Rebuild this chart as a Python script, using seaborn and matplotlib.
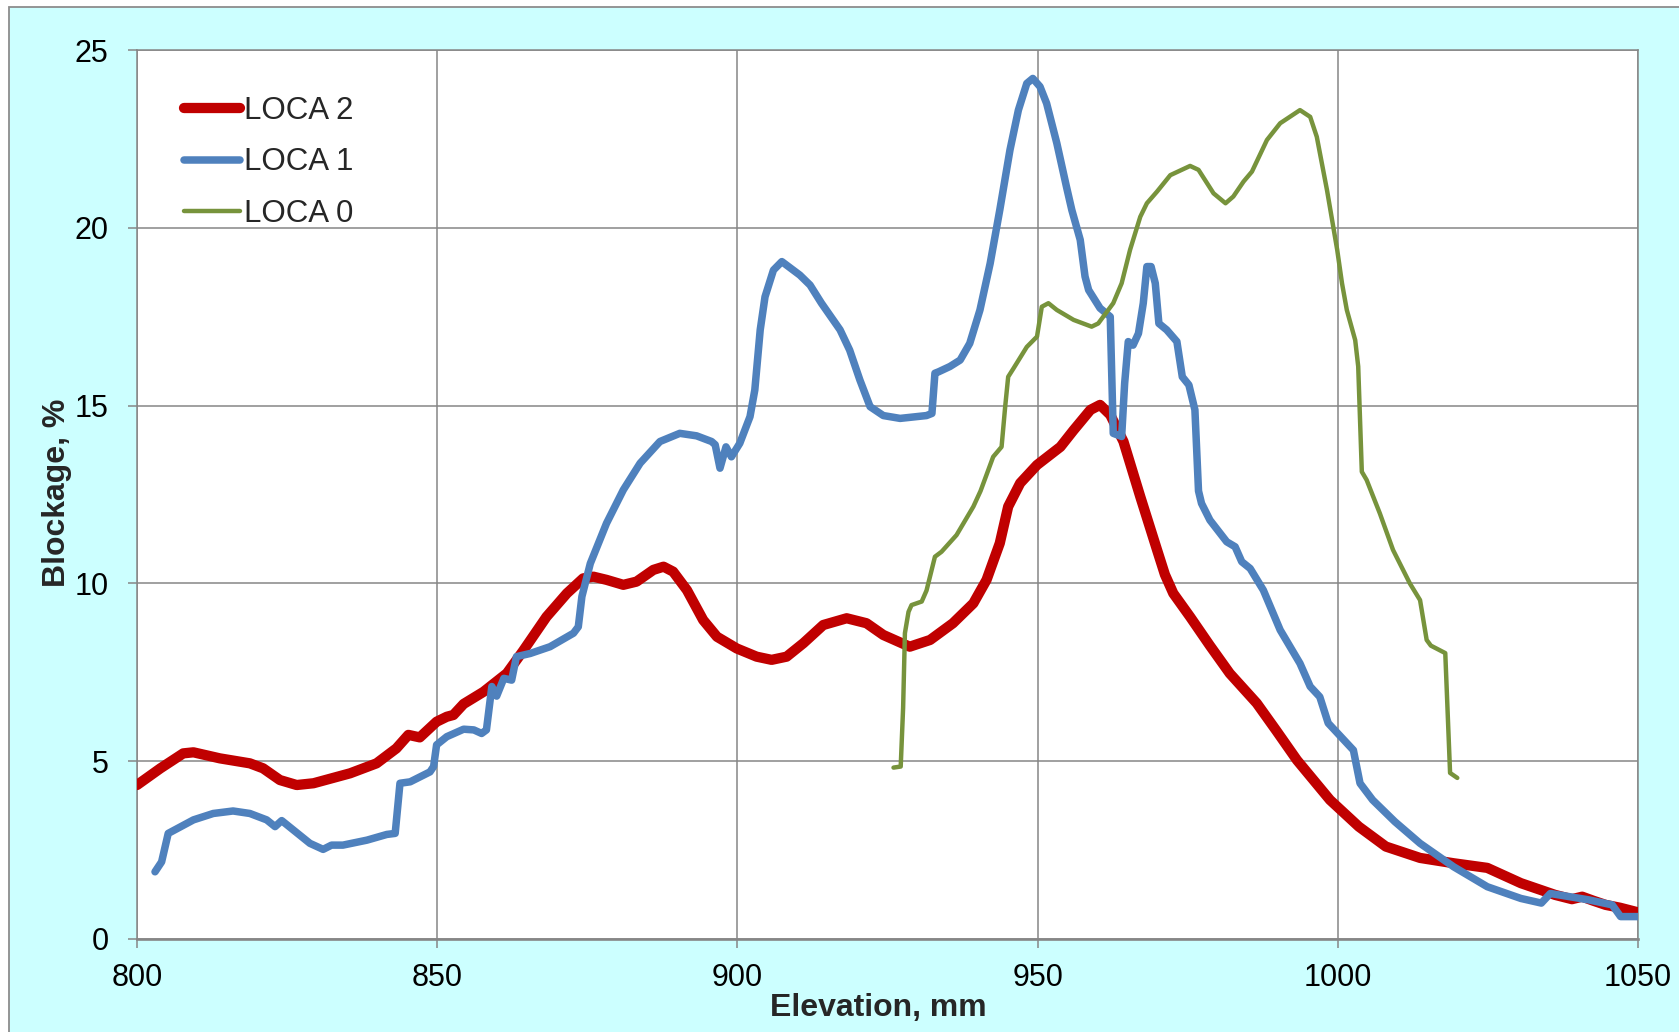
import matplotlib
matplotlib.use("Agg")
import matplotlib.pyplot as plt
from matplotlib.patches import Rectangle
import seaborn as sns
import pandas as pd

# ---- data: blockage (%) versus elevation (mm) for three LOCA cases ----
loca2_x = [800.0, 803.9, 807.7, 809.4, 813.8, 818.8, 821.0, 823.8, 826.6, 829.4,
           835.5, 839.9, 843.2, 845.2, 847.1, 849.9, 851.6, 852.7, 854.4, 857.7,
           861.6, 864.3, 868.2, 871.6, 874.3, 876.0, 878.2, 881.0, 883.2, 886.0,
           887.7, 889.3, 891.6, 894.3, 896.6, 899.9, 903.2, 905.7, 908.2, 911.0,
           914.3, 918.2, 921.5, 924.3, 928.7, 932.1, 935.9, 939.3, 941.5, 943.7,
           945.1, 947.1, 949.9, 953.8, 956.0, 958.8, 960.4, 962.1, 964.3, 967.1,
           969.9, 971.2, 972.6, 975.4, 978.7, 982.0, 986.5, 989.8, 993.2, 998.7,
           1003.5, 1008.0, 1013.7, 1019.3, 1024.9, 1030.5, 1036.2, 1039.0, 1040.7, 1042.5,
           1044.6, 1047.0, 1050.0]
loca2_y = [4.33, 4.80, 5.22, 5.25, 5.08, 4.94, 4.80, 4.47, 4.33, 4.38,
           4.66, 4.94, 5.36, 5.74, 5.67, 6.11, 6.25, 6.30, 6.61, 6.95,
           7.47, 8.10, 9.06, 9.72, 10.14, 10.19, 10.10, 9.96, 10.05, 10.38,
           10.47, 10.33, 9.81, 8.97, 8.50, 8.17, 7.94, 7.85, 7.94, 8.32,
           8.83, 9.02, 8.88, 8.55, 8.22, 8.41, 8.88, 9.44, 10.10, 11.13,
           12.16, 12.82, 13.33, 13.84, 14.31, 14.88, 15.02, 14.74, 13.99, 12.44,
           10.94, 10.25, 9.72, 9.06, 8.25, 7.47, 6.63, 5.85, 5.03, 3.91,
           3.16, 2.60, 2.28, 2.13, 2.00, 1.57, 1.24, 1.12, 1.19, 1.08,
           0.96, 0.88, 0.75]

loca1_x = [803.0, 804.1, 805.2, 806.3, 809.4, 812.7, 816.0, 818.8, 821.6, 823.0,
           824.1, 826.0, 828.8, 831.0, 832.4, 834.3, 838.3, 841.6, 843.0, 843.8,
           845.5, 848.8, 849.4, 849.9, 851.6, 854.4, 856.1, 857.4, 858.2, 859.1,
           859.9, 861.1, 862.4, 863.2, 865.5, 868.8, 872.7, 873.5, 874.1, 875.5,
           878.2, 881.0, 883.8, 887.1, 890.4, 893.2, 895.7, 896.3, 897.1, 898.1,
           899.0, 900.4, 902.1, 902.9, 903.8, 904.6, 906.0, 907.4, 910.4, 912.1,
           914.0, 917.1, 918.7, 920.4, 922.1, 924.3, 927.1, 931.5, 932.4, 932.9,
           933.5, 935.4, 937.1, 938.7, 940.4, 942.1, 943.7, 945.4, 946.8, 948.2,
           949.2, 950.4, 951.5, 953.2, 954.8, 955.7, 957.1, 957.9, 958.5, 960.4,
           962.1, 962.6, 964.0, 964.5, 965.1, 965.9, 966.8, 967.6, 968.2, 968.9,
           969.6, 970.2, 971.5, 973.2, 974.1, 975.2, 976.2, 976.8, 977.3, 978.7,
           981.5, 982.9, 984.0, 985.4, 987.6, 990.4, 993.7, 995.4, 997.0, 998.4,
           1002.6, 1003.7, 1005.8, 1009.5, 1013.7, 1019.3, 1024.9, 1030.5, 1033.9, 1035.4,
           1041.8, 1045.7, 1047.1, 1050.0]
loca1_y = [1.89, 2.17, 2.97, 3.07, 3.35, 3.53, 3.60, 3.53, 3.35, 3.16,
           3.33, 3.07, 2.69, 2.52, 2.64, 2.64, 2.78, 2.94, 2.97, 4.38,
           4.42, 4.70, 4.85, 5.46, 5.69, 5.90, 5.88, 5.78, 5.88, 7.10,
           6.83, 7.33, 7.28, 7.94, 8.03, 8.22, 8.60, 8.78, 9.63, 10.56,
           11.69, 12.63, 13.38, 13.99, 14.22, 14.15, 13.99, 13.90, 13.24, 13.84,
           13.56, 13.94, 14.69, 15.44, 17.13, 18.06, 18.81, 19.05, 18.67, 18.39,
           17.88, 17.13, 16.56, 15.72, 14.97, 14.72, 14.64, 14.72, 14.78, 15.91,
           15.95, 16.10, 16.28, 16.75, 17.69, 19.00, 20.50, 22.19, 23.31, 24.06,
           24.20, 23.97, 23.50, 22.38, 21.16, 20.50, 19.66, 18.63, 18.25, 17.74,
           17.50, 14.22, 14.13, 15.63, 16.80, 16.70, 17.03, 17.88, 18.91, 18.91,
           18.44, 17.31, 17.13, 16.80, 15.81, 15.58, 14.88, 12.60, 12.25, 11.78,
           11.17, 11.03, 10.61, 10.42, 9.81, 8.69, 7.75, 7.10, 6.81, 6.07,
           5.31, 4.38, 3.91, 3.30, 2.69, 2.03, 1.47, 1.14, 1.01, 1.28,
           1.10, 0.96, 0.63, 0.63]

loca0_x = [926.0, 927.2, 927.6, 927.9, 928.5, 929.0, 930.7, 931.5, 932.9, 934.0,
           936.5, 939.3, 940.5, 942.6, 944.0, 944.6, 945.1, 946.0, 948.2, 949.9,
           950.7, 951.8, 953.2, 956.0, 959.0, 960.1, 962.6, 964.0, 965.4, 967.1,
           968.2, 969.9, 972.1, 975.4, 976.8, 979.3, 981.3, 982.6, 984.3, 985.7,
           988.2, 990.4, 993.7, 995.4, 996.5, 998.2, 999.9, 1000.7, 1001.5, 1002.9,
           1003.4, 1004.0, 1004.8, 1007.0, 1009.2, 1012.0, 1013.7, 1014.8, 1015.5, 1017.9,
           1018.7, 1019.9]
loca0_y = [4.82, 4.85, 6.50, 8.60, 9.20, 9.39, 9.49, 9.80, 10.75, 10.89,
           11.36, 12.16, 12.60, 13.56, 13.84, 14.97, 15.81, 16.05, 16.65, 16.94,
           17.78, 17.88, 17.69, 17.41, 17.22, 17.31, 17.88, 18.44, 19.38, 20.31,
           20.69, 21.02, 21.48, 21.74, 21.63, 20.97, 20.69, 20.88, 21.30, 21.58,
           22.47, 22.94, 23.31, 23.12, 22.56, 21.06, 19.38, 18.44, 17.69, 16.84,
           16.10, 13.14, 12.91, 11.97, 10.94, 10.00, 9.53, 8.41, 8.25, 8.04,
           4.67, 4.53]

series_names = ["LOCA 2", "LOCA 1", "LOCA 0"]
series_colors = ["#C00000", "#4F81BD", "#77933C"]
series_widths = [7.4, 5.4, 3.2]

x_ticks = [800, 850, 900, 950, 1000, 1050]
y_ticks = [0, 5, 10, 15, 20, 25]

# ---- styling ----
sns.set_style("white")
plt.rcParams["font.family"] = ["Liberation Sans", "DejaVu Sans"]

GRID = "#868686"
BG = "#CCFFFF"

fig = plt.figure(figsize=(16.79, 10.32), dpi=100, facecolor="white")
# chart-area background with its thin grey frame
frame = Rectangle((9 / 1679, -0.02), 1.0, 1.02 - 7 / 1032,
                  transform=fig.transFigure, facecolor=BG,
                  edgecolor="#8C8C8C", linewidth=1.3, zorder=-10)
fig.patches.append(frame)

ax = fig.add_axes([137 / 1679, 1 - 939 / 1032, 1501 / 1679, 889 / 1032])
ax.set_zorder(1)
ax.set_facecolor("white")

frames = [
    pd.DataFrame({"Elevation": loca2_x, "Blockage": loca2_y}),
    pd.DataFrame({"Elevation": loca1_x, "Blockage": loca1_y}),
    pd.DataFrame({"Elevation": loca0_x, "Blockage": loca0_y}),
]
for z, (df, name, col, lw) in enumerate(zip(frames, series_names,
                                              series_colors, series_widths)):
    sns.lineplot(data=df, x="Elevation", y="Blockage", ax=ax, sort=False,
                 estimator=None, color=col, linewidth=lw, label=name,
                 solid_capstyle="round", solid_joinstyle="round", zorder=3 + z)

ax.set_xlim(800, 1050)
ax.set_ylim(0, 25)
ax.set_xticks(x_ticks)
ax.set_yticks(y_ticks)
ax.set_xticklabels([str(v) for v in x_ticks])
ax.set_yticklabels([str(v) for v in y_ticks])

ax.grid(True, color=GRID, linewidth=1.1)
ax.set_axisbelow(True)
for side, sp in ax.spines.items():
    sp.set_color(GRID)
    sp.set_linewidth(1.1)
    sp.set_visible(True)
ax.spines["bottom"].set_linewidth(1.9)

ax.tick_params(axis="both", which="major", length=6.5, width=1.1,
               color=GRID, labelsize=22, labelcolor="black",
               bottom=True, left=True)
ax.tick_params(axis="y", pad=14)
ax.tick_params(axis="x", pad=11)

ax.set_xlabel("Elevation, mm", fontsize=23, fontweight="bold")
ax.set_ylabel("Blockage, %", fontsize=23, fontweight="bold")
ax.xaxis.set_label_coords(0.494, -0.061)
ax.yaxis.set_label_coords(-0.043, 0.502)

leg = ax.legend(loc="upper left", bbox_to_anchor=(0.031, 0.948), frameon=False,
                fontsize=22.5, handlelength=1.8, handletextpad=0.12,
                labelspacing=0.68, borderpad=0, borderaxespad=0)
for line, lw in zip(leg.get_lines(), series_widths):
    line.set_linewidth(lw)
    line.set_solid_capstyle("round")

fig.savefig("out.png", dpi=100, facecolor=fig.get_facecolor())
